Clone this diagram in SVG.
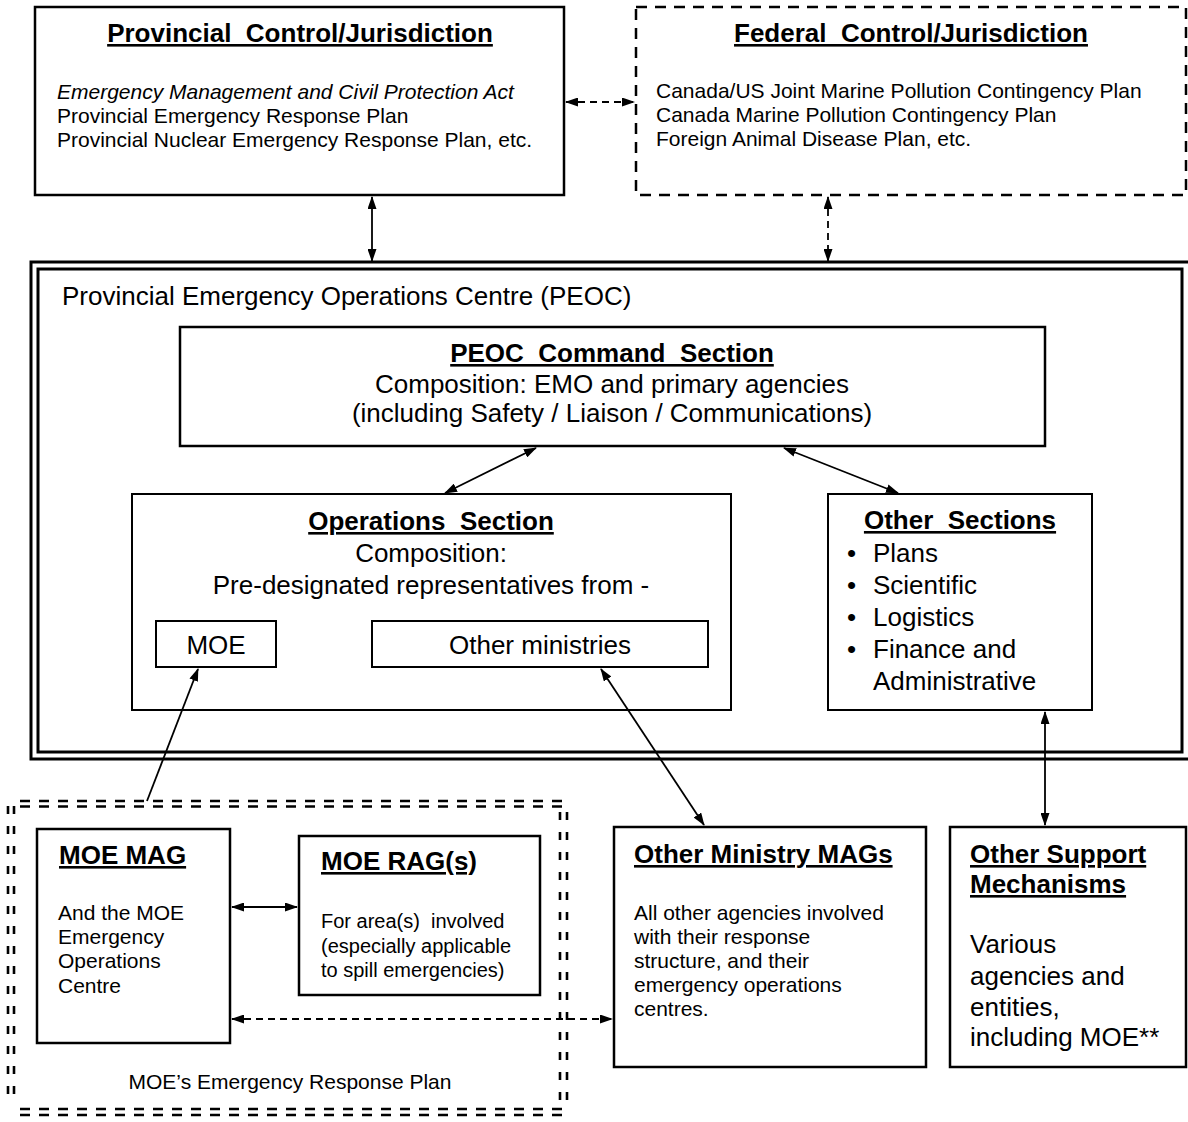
<svg xmlns="http://www.w3.org/2000/svg" width="1188" height="1122" viewBox="0 0 1188 1122">
<defs>
<style>
text{font-family:"Liberation Sans",Arial,sans-serif;fill:#000;white-space:pre}
.t{font-weight:bold;font-size:26px;text-decoration:underline}
.b21{font-size:21px}
.b26{font-size:26px}
.box{fill:#fff;stroke:#000;stroke-width:2.5}
.sbox{fill:#fff;stroke:#000;stroke-width:2}
.dbox{fill:none;stroke:#000;stroke-width:2.5;stroke-dasharray:11 8}
.c{fill:none;stroke:#000;stroke-width:1.8}
.cd{fill:none;stroke:#000;stroke-width:1.8;stroke-dasharray:7 5}
.erph{fill:none;stroke:#000;stroke-width:2.6;stroke-dasharray:10 9}
.erpv{fill:none;stroke:#000;stroke-width:2.6;stroke-dasharray:8 12}
.mid{text-anchor:middle}
</style>
<marker id="ah" markerWidth="13" markerHeight="9" refX="12" refY="4.5" orient="auto-start-reverse" markerUnits="userSpaceOnUse">
<path d="M0,0 L13,4.5 L0,9 z" fill="#000"/>
</marker>
</defs>
<rect width="1188" height="1122" fill="#fff"/>

<g id="provincial">
<rect class="box" x="35" y="7" width="529" height="188"/>
<text class="t mid" x="300" y="42">Provincial  Control/Jurisdiction</text>
<text class="b21" x="57" y="99" font-style="italic" font-size="21.3">Emergency Management and Civil Protection Act</text>
<text class="b21" x="57" y="123" font-size="21.3">Provincial Emergency Response Plan</text>
<text class="b21" x="57" y="147" font-size="21.3">Provincial Nuclear Emergency Response Plan, etc.</text>
</g>

<g id="federal">
<rect class="dbox" x="636" y="7" width="550" height="188"/>
<text class="t mid" x="911" y="42">Federal  Control/Jurisdiction</text>
<text class="b21" x="656" y="98" font-size="21.3">Canada/US Joint Marine Pollution Contingency Plan</text>
<text class="b21" x="656" y="122" font-size="21.3">Canada Marine Pollution Contingency Plan</text>
<text class="b21" x="656" y="146" font-size="21.3">Foreign Animal Disease Plan, etc.</text>
</g>

<g id="peoc">
<rect fill="none" stroke="#000" stroke-width="3" x="31" y="262" width="1162" height="497"/>
<rect fill="none" stroke="#000" stroke-width="3" x="38" y="269" width="1144" height="483"/>
<text class="b26" x="62" y="305">Provincial Emergency Operations Centre (PEOC)</text>
</g>

<g id="command">
<rect class="box" x="180" y="327" width="865" height="119"/>
<text class="t mid" x="612" y="362">PEOC  Command  Section</text>
<text class="b26 mid" x="612" y="393">Composition: EMO and primary agencies</text>
<text class="b26 mid" x="612" y="422">(including Safety / Liaison / Communications)</text>
</g>

<g id="operations">
<rect class="sbox" x="132" y="494" width="599" height="216"/>
<text class="t mid" x="431" y="530">Operations  Section</text>
<text class="b26 mid" x="431" y="562">Composition:</text>
<text class="b26 mid" x="431" y="594">Pre-designated representatives from -</text>
</g>

<g id="moe">
<rect class="sbox" x="156" y="621" width="120" height="46"/>
<text class="b26 mid" x="216" y="654">MOE</text>
</g>

<g id="other-ministries">
<rect class="sbox" x="372" y="621" width="336" height="46"/>
<text class="b26 mid" x="540" y="654">Other ministries</text>
</g>

<g id="other-sections">
<rect class="sbox" x="828" y="494" width="264" height="216"/>
<text class="t mid" x="960" y="529">Other  Sections</text>
<text class="b26" x="847" y="562">•</text>
<text class="b26" x="873" y="562">Plans</text>
<text class="b26" x="847" y="594">•</text>
<text class="b26" x="873" y="594">Scientific</text>
<text class="b26" x="847" y="626">•</text>
<text class="b26" x="873" y="626">Logistics</text>
<text class="b26" x="847" y="658">•</text>
<text class="b26" x="873" y="658">Finance and</text>
<text class="b26" x="873" y="690">Administrative</text>
</g>

<g id="moe-erp">
<line class="erph" x1="20" y1="801" x2="568" y2="801"/>
<line class="erph" x1="20" y1="806.5" x2="568" y2="806.5"/>
<line class="erph" x1="20" y1="1109" x2="568" y2="1109"/>
<line class="erph" x1="20" y1="1115" x2="568" y2="1115"/>
<line class="erpv" x1="8" y1="806" x2="8" y2="1106"/>
<line class="erpv" x1="14" y1="806" x2="14" y2="1106"/>
<line class="erpv" x1="560" y1="812" x2="560" y2="1104"/>
<line class="erpv" x1="567" y1="812" x2="567" y2="1104"/>
<text class="b21 mid" x="290" y="1089">MOE’s Emergency Response Plan</text>
</g>

<g id="moe-mag">
<rect class="box" x="37" y="829" width="193" height="214"/>
<text class="t" x="59" y="864">MOE MAG</text>
<text class="b21" x="58" y="920">And the MOE</text>
<text class="b21" x="58" y="944">Emergency</text>
<text class="b21" x="58" y="968">Operations</text>
<text class="b21" x="58" y="993">Centre</text>
</g>

<g id="moe-rag">
<rect class="box" x="299" y="836" width="241" height="159"/>
<text class="t" x="321" y="870">MOE RAG(s)</text>
<text font-size="20" x="321" y="928">For area(s)  involved</text>
<text font-size="20" x="321" y="953">(especially applicable</text>
<text font-size="20" x="321" y="977">to spill emergencies)</text>
</g>

<g id="other-ministry-mags">
<rect class="box" x="614" y="827" width="312" height="240"/>
<text class="t" x="634" y="863">Other Ministry MAGs</text>
<text class="b21" x="634" y="920">All other agencies involved</text>
<text class="b21" x="634" y="944">with their response</text>
<text class="b21" x="634" y="968">structure, and their</text>
<text class="b21" x="634" y="992">emergency operations</text>
<text class="b21" x="634" y="1016">centres.</text>
</g>

<g id="other-support">
<rect class="box" x="950" y="827" width="236" height="240"/>
<text class="t" x="970" y="863">Other Support</text>
<text class="t" x="970" y="893">Mechanisms</text>
<text class="b26" x="970" y="953">Various</text>
<text class="b26" x="970" y="985">agencies and</text>
<text class="b26" x="970" y="1016">entities,</text>
<text class="b26" x="970" y="1046">including MOE**</text>
</g>

<g id="connectors">
<line class="cd" x1="566" y1="102" x2="634" y2="102" marker-start="url(#ah)" marker-end="url(#ah)"/>
<line class="c" x1="372" y1="197" x2="372" y2="261" marker-start="url(#ah)" marker-end="url(#ah)"/>
<line class="cd" x1="828" y1="197" x2="828" y2="261" marker-start="url(#ah)" marker-end="url(#ah)"/>
<line class="c" x1="536" y1="448" x2="445" y2="493" marker-start="url(#ah)" marker-end="url(#ah)"/>
<line class="c" x1="784" y1="448" x2="898" y2="493" marker-start="url(#ah)" marker-end="url(#ah)"/>
<line class="c" x1="147" y1="801" x2="198" y2="669" marker-end="url(#ah)"/>
<line class="c" x1="601" y1="669" x2="704" y2="825" marker-start="url(#ah)" marker-end="url(#ah)"/>
<line class="c" x1="1045" y1="712" x2="1045" y2="825" marker-start="url(#ah)" marker-end="url(#ah)"/>
<line class="c" x1="232" y1="907" x2="297" y2="907" marker-start="url(#ah)" marker-end="url(#ah)"/>
<line class="cd" x1="232" y1="1019" x2="612" y2="1019" marker-start="url(#ah)" marker-end="url(#ah)"/>
</g>
</svg>
